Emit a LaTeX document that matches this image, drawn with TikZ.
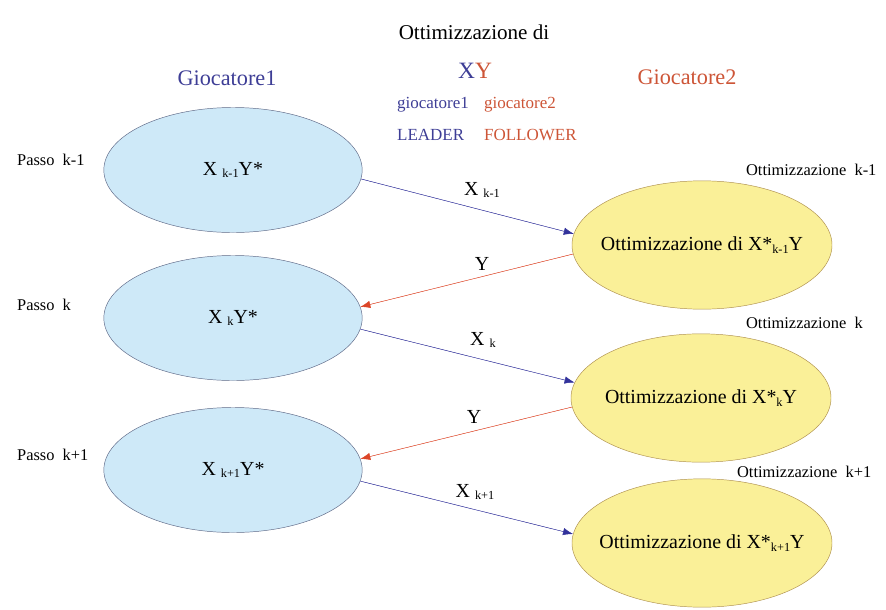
\documentclass[tikz,border=0pt]{standalone}
\usepackage{fontspec}
\setmainfont{Liberation Serif}
\usepackage{tikz}
\usetikzlibrary{shapes.geometric, arrows.meta, positioning, calc}

\definecolor{celeste}{RGB}{206,233,248}
\definecolor{giallo}{RGB}{250,240,152}
\definecolor{bordoblu}{RGB}{95,105,135}
\definecolor{bordogiallo}{RGB}{175,145,80}
\definecolor{blutesto}{RGB}{62,62,150}
\definecolor{rossotesto}{RGB}{205,85,55}
\definecolor{frecciablu}{RGB}{50,50,155}
\definecolor{frecciarossa}{RGB}{220,70,40}

\newcommand{\pedice}[1]{\raisebox{-0.25ex}{\fontsize{10.5}{12}\selectfont #1}}

\begin{document}
\begin{tikzpicture}[
    x=0.03cm, y=-0.03cm,
    testo/.style={font=\fontsize{17}{20}\selectfont},
    leader/.style={ellipse, draw=bordoblu, fill=celeste, minimum width=7.75cm, minimum height=3.75cm, inner sep=0pt, testo},
    follower/.style={ellipse, draw=bordogiallo, fill=giallo, minimum width=7.8cm, minimum height=3.85cm, inner sep=0pt},
    passo/.style={anchor=west, font=\fontsize{14}{16}\selectfont},
    ottim/.style={anchor=west, font=\fontsize{14}{16}\selectfont},
    arrowblu/.style={-{Latex[length=3mm,width=2.2mm]}, draw=frecciablu, fill=frecciablu},
    arrowrosso/.style={-{Latex[length=3mm,width=2.2mm]}, draw=frecciarossa, fill=frecciarossa}
]
\useasboundingbox (0,0) rectangle (886,609);

% intestazione
\node[font=\fontsize{18}{22}\selectfont] (titolo) at (474,32) {Ottimizzazione di};
\node[font=\fontsize{20}{24}\selectfont] (xy) at (475,71) {\textcolor{blutesto}{X}\textcolor{rossotesto}{Y}};
\node[anchor=west, font=\fontsize{14.5}{17}\selectfont, text=blutesto] (g1) at (393,105) {giocatore1};
\node[anchor=west, font=\fontsize{14.5}{17}\selectfont, text=rossotesto] (g2) at (480,105) {giocatore2};
\node[anchor=west, font=\fontsize{14.5}{17}\selectfont, text=blutesto] (lead) at (393,135) {LEADER};
\node[anchor=west, font=\fontsize{14.5}{17}\selectfont, text=rossotesto] (foll) at (480,135) {FOLLOWER};
\node[font=\fontsize{19}{22}\selectfont, text=blutesto] (gioc1) at (227,78) {Giocatore1};
\node[font=\fontsize{19}{22}\selectfont, text=rossotesto] (gioc2) at (687,77) {Giocatore2};

% giocatore1
\node[leader] (e1) at (233,170) {X \pedice{k-1}Y*};
\node[leader] (e2) at (233,318) {X \pedice{k}Y*};
\node[leader] (e3) at (233,470) {X \pedice{k+1}Y*};

\node[passo] (p1) at (13,160) {Passo\ \ k-1};
\node[passo] (p2) at (13,305) {Passo\ \ k};
\node[passo] (p3) at (13,455) {Passo\ \ k+1};

% giocatore2
\node[follower, label={[testo]center:Ottimizzazione di X*\pedice{k-1}Y}] (r1) at (702,245) {};
\node[follower, label={[testo]center:Ottimizzazione di X*\pedice{k}Y}] (r2) at (701,398) {};
\node[follower, label={[testo]center:Ottimizzazione di X*\pedice{k+1}Y}] (r3) at (702,543) {};

\node[ottim] (o1) at (742,170) {Ottimizzazione\ \ k-1};
\node[ottim] (o2) at (742,323) {Ottimizzazione\ \ k};
\node[ottim] (o3) at (733,472) {Ottimizzazione\ \ k+1};

% frecce
\draw[arrowblu] (e1.-4) -- (r1.175);
\draw[arrowrosso] (r1.184) -- (e2.5);
\draw[arrowblu] (e2.-5) -- (r2.173);
\draw[arrowrosso] (r2.184) -- (e3.5);
\draw[arrowblu] (e3.-5) -- (r3.176);

\node[testo] (lx1) at (482,190) {X \pedice{k-1}};
\node[testo] (ly1) at (482,264) {Y};
\node[testo] (lx2) at (483,340) {X \pedice{k}};
\node[testo] (ly2) at (474,417) {Y};
\node[testo] (lx3) at (475,492) {X \pedice{k+1}};
\end{tikzpicture}
\end{document}
